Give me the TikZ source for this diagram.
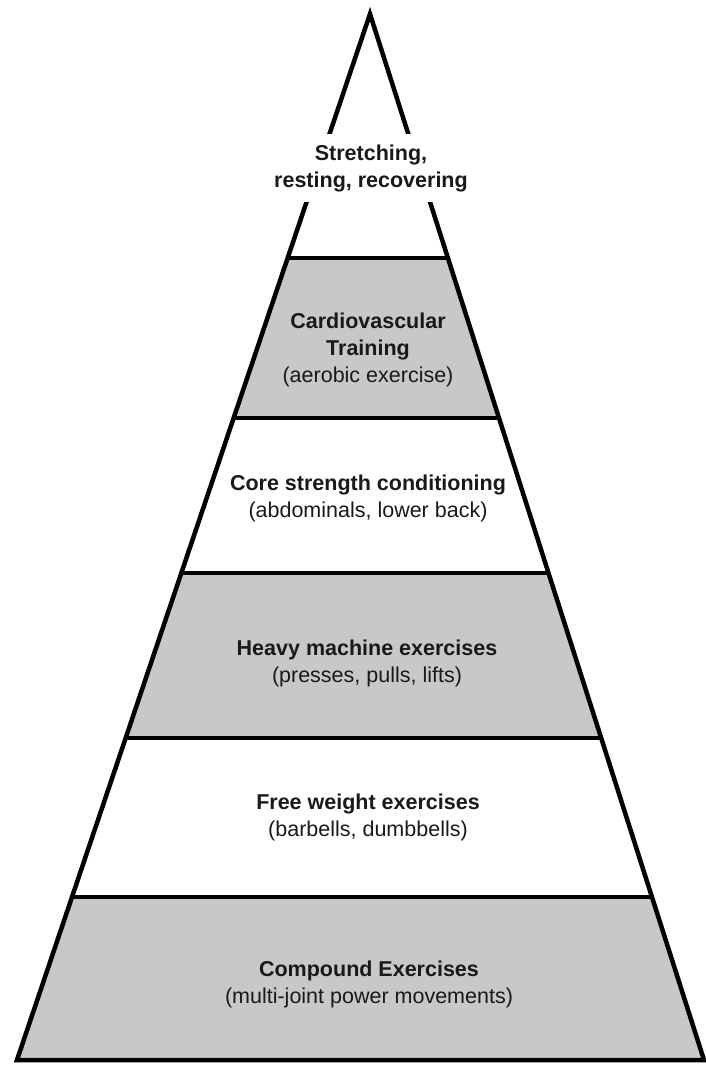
\documentclass[tikz,border=0pt]{standalone}
\usepackage{fontspec}
\setmainfont{Liberation Sans}
\usetikzlibrary{calc}
\definecolor{bandgray}{RGB}{200,200,200}
\definecolor{txt}{RGB}{25,25,25}
\begin{document}
\begin{tikzpicture}[x=1pt,y=-1pt,
  edge/.style={line width=4.5pt,line join=miter,draw=black},
  divider/.style={line width=4.5pt,draw=black},
  lbl/.style={align=center,font=\fontsize{21.5}{27}\selectfont,text=txt,inner sep=0pt},
]
\useasboundingbox (0,0) rectangle (706,1066);
\coordinate (apex) at (370,14);
\coordinate (bl) at (17,1060);
\coordinate (br) at (704,1060);
% divider levels (y = 258, 418, 573, 738, 897)
\foreach \n/\t in {1/0.2333,2/0.3862,3/0.5344,4/0.6922,5/0.8442}{
  \coordinate (L\n) at ($(apex)!\t!(bl)$);
  \coordinate (R\n) at ($(apex)!\t!(br)$);
}
% shaded bands
\fill[bandgray] (L1) -- (R1) -- (R2) -- (L2) -- cycle;
\fill[bandgray] (L3) -- (R3) -- (R4) -- (L4) -- cycle;
\fill[bandgray] (L5) -- (R5) -- (br) -- (bl) -- cycle;
% outline and dividers
\draw[edge] (bl) -- (apex) -- (br) -- cycle;
\foreach \n in {1,...,5}{\draw[divider] (L\n) -- (R\n);}
% labels
\node[lbl,fill=white,inner xsep=2pt,inner ysep=10pt] (stretch) at (371,168)
  {\textbf{Stretching,}\\\textbf{resting, recovering}};
\node[lbl] (cardio) at (368,350)
  {\textbf{Cardiovascular}\\\textbf{Training}\\(aerobic exercise)};
\node[lbl] (core) at (368,498)
  {\textbf{Core strength conditioning}\\(abdominals, lower back)};
\node[lbl] (heavy) at (367,663)
  {\textbf{Heavy machine exercises}\\(presses, pulls, lifts)};
\node[lbl] (free) at (368,817)
  {\textbf{Free weight exercises}\\(barbells, dumbbells)};
\node[lbl] (compound) at (369,984)
  {\textbf{Compound Exercises}\\(multi-joint power movements)};
\end{tikzpicture}
\end{document}
